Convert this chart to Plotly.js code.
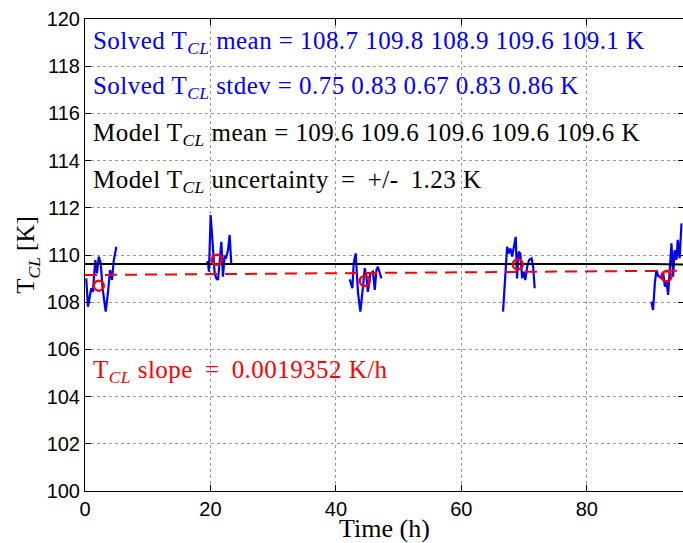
<!DOCTYPE html>
<html>
<head>
<meta charset="utf-8">
<script src="https://cdn.plot.ly/plotly-3.0.1.min.js"></script>
<style>
html,body{margin:0;padding:0;overflow:hidden;background:#fff;}
#chart{width:690px;height:543px;}
.annotation-text{letter-spacing:0.45px;}
</style>
</head>
<body>
<div id="chart"></div>
<script>
// Solved T_CL segments (time in h, temperature in K)
const seg1T = [0.2,0.47,1.0,1.26,1.64,1.9,2.2,2.5,2.8,3.05,3.3,3.65,4.0,4.3,4.6,5.0];
const seg1Y = [109.01,107.81,108.59,108.44,109.79,109.22,109.93,109.65,108.6,108.1,107.6,108.38,109.36,108.94,109.79,110.35];
const seg2T = [19.35,19.6,19.76,20.03,20.24,20.67,20.94,21.2,21.47,21.74,21.99,22.26,22.5,22.79,23.06,23.33];
const seg2Y = [109.67,109.7,109.29,111.69,110.92,109.22,109.01,108.94,109.72,110.56,109.08,109.93,109.9,110.2,110.85,109.58];
const seg3T = [42.2,42.63,42.84,43.16,43.53,43.9,44.32,44.6,44.87,45.1,45.5,45.9,46.2,46.46,46.7,47.25];
const seg3Y = [108.97,108.59,109.65,110.07,108.38,107.6,108.66,109.44,109.08,108.44,109.22,109.29,108.52,109.36,109.5,109.01];
const seg4T = [66.65,67.3,67.56,67.83,68.09,68.35,68.67,68.88,69.15,69.4,69.7,69.96,70.2,70.5,70.8,71.2,71.45,71.7];
const seg4Y = [107.6,110.35,110.07,110.28,109.93,110.28,110.77,109.01,110.14,110.07,109.01,109.29,108.94,109.5,109.79,109.86,109.5,108.59];
const seg5T = [90.3,90.57,90.85,91.1,91.4,91.65,91.9,92.2,92.45,92.7,92.97,93.2,93.5,93.76,94.0,94.3,94.5,94.8,95.1];
const seg5Y = [108.02,107.67,108.8,109.36,109.1,109.08,109.0,109.22,108.66,108.9,108.31,109.1,110.5,109.08,110.2,109.8,110.64,109.86,111.34];

// Segment means (red circles)
const meanT = [2.2,21.0,44.6,69.0,92.7];
const meanY = [108.7,109.8,108.9,109.6,109.1];

// Model mean (black line)
const modelT = [0,10,20,30,40,50,60,70,80,90,95.5];
const modelY = [109.62,109.62,109.63,109.63,109.62,109.63,109.64,109.65,109.64,109.62,109.6];

// Linear fit (red dashed)
const fitT = [0,95.5];
const fitY = [109.15,109.335];

// Annotation texts
const txtSolvedMean = "Solved T<sub><i>CL</i></sub> mean = 108.7 109.8 108.9 109.6 109.1 K";
const txtSolvedStd = "Solved T<sub><i>CL</i></sub> stdev = 0.75 0.83 0.67 0.83 0.86 K";
const txtModelMean = "Model T<sub><i>CL</i></sub> mean = 109.6 109.6 109.6 109.6 109.6 K";
const txtModelUnc = "Model T<sub><i>CL</i></sub> uncertainty \u2009=\u2009 +/-\u2009 1.23 K";
const txtSlope = "T<sub><i>CL</i></sub> slope \u2009=\u2009 0.0019352 K/h";

const xTicks = [0,20,40,60,80];
const yTicks = [100,102,104,106,108,110,112,114,116,118,120];

const serif = "Liberation Serif";
const sans = "Liberation Sans";

const blue = {color:'#0000ff', width:2.2};
const traces = [];
[[seg1T,seg1Y],[seg2T,seg2Y],[seg3T,seg3Y],[seg4T,seg4Y],[seg5T,seg5Y]].forEach(s=>{
  traces.push({x:s[0], y:s[1], type:'scatter', mode:'lines', line:blue, showlegend:false, hoverinfo:'skip'});
});
traces.push({x:modelT, y:modelY, type:'scatter', mode:'lines', line:{color:'#000', width:2}, showlegend:false});
traces.push({x:fitT, y:fitY, type:'scatter', mode:'lines', line:{color:'#ff0000', width:2, dash:'12px,8px'}, showlegend:false});
traces.push({x:meanT, y:meanY, type:'scatter', mode:'markers', marker:{symbol:'circle-open', size:10, color:'#ff0000', line:{width:2.5, color:'#ff0000'}}, showlegend:false});

function ann(text, y, color){
  return {x:1, y:y, xref:'x', yref:'y', text:text, showarrow:false, xanchor:'left', yanchor:'middle',
    font:{family:serif, size:25, color:color}};
}

const layout = {
  width:690, height:543,
  margin:{l:85, r:6, t:19, b:52, pad:0},
  paper_bgcolor:'#fff', plot_bgcolor:'#fff',
  showlegend:false,
  xaxis:{range:[0,95.5], tickvals:xTicks, ticktext:xTicks.map(String), ticks:'inside', ticklen:6, tickcolor:'#000',
    showline:true, linecolor:'#000', linewidth:1, mirror:'ticks',
    showgrid:true, gridcolor:'#999', griddash:'dot', gridwidth:1, zeroline:false,
    tickfont:{family:sans, size:20, color:'#000'},
    title:{text:'Time (h)', font:{family:serif, size:26, color:'#000'}, standoff:3}},
  yaxis:{range:[100,120], tickvals:yTicks, ticktext:yTicks.map(String), ticks:'inside', ticklen:6, tickcolor:'#000',
    showline:true, linecolor:'#000', linewidth:1, mirror:'ticks',
    showgrid:true, gridcolor:'#999', griddash:'dot', gridwidth:1, zeroline:false,
    tickfont:{family:sans, size:20, color:'#000'},
    title:{text:'T<sub><i>CL</i></sub> [K]', font:{family:serif, size:25, color:'#000'}, standoff:4}},
  annotations:[
    ann(txtSolvedMean, 119.0, '#0000ff'),
    ann(txtSolvedStd, 117.1, '#0000ff'),
    ann(txtModelMean, 115.1, '#000'),
    ann(txtModelUnc, 113.1, '#000'),
    ann(txtSlope, 105.05, '#ff0000')
  ]
};

Plotly.newPlot('chart', traces, layout, {displayModeBar:false, staticPlot:true});
</script>
</body>
</html>
